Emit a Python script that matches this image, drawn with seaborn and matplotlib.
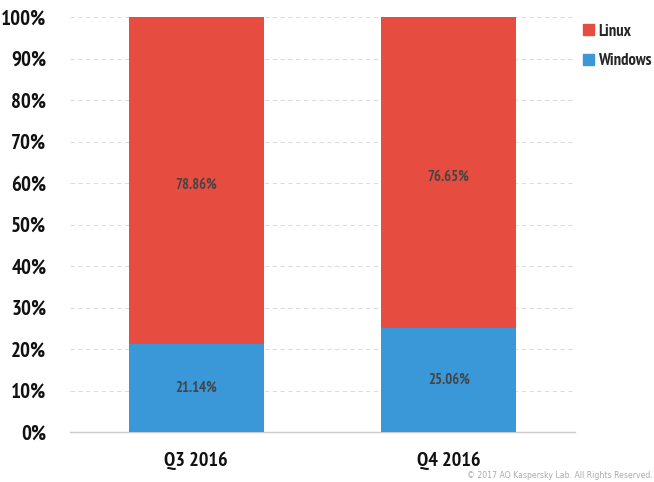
import matplotlib
matplotlib.use("Agg")
import matplotlib.pyplot as plt
import seaborn as sns
import pandas as pd
from matplotlib.patches import Patch

categories = ["Q3 2016", "Q4 2016"]
windows = [21.14, 25.06]
linux = [78.86, 76.65]
yticks = [0, 10, 20, 30, 40, 50, 60, 70, 80, 90, 100]

RED = "#E64C3F"
BLUE = "#3A98D8"
FAM = ["PT Sans Narrow", "Cabin Condensed", "DejaVu Sans"]

sns.set_style("white")
plt.rcParams['font.family'] = FAM

fig = plt.figure(figsize=(6.54, 4.82), dpi=100)
ax = fig.add_axes([0.107, 0.1037, 0.772, 0.861])

df = pd.DataFrame({"cat": categories, "win": windows, "lin": linux})
df["total"] = (df["win"] + df["lin"]).clip(upper=100)

sns.barplot(data=df, x="cat", y="total", color=RED, width=0.536, ax=ax,
            saturation=1, zorder=2, linewidth=0)
sns.barplot(data=df, x="cat", y="win", color=BLUE, width=0.536, ax=ax,
            saturation=1, zorder=3, linewidth=0)

ax.set_ylim(0, 100)
ax.set_xlim(-0.5, 1.5)
ax.set_yticks(yticks)
ax.set_yticklabels([f"{t}%" for t in yticks], fontsize=15, fontweight="bold",
                   color="#111111")
ax.set_xticks(range(len(categories)))
ax.set_xticklabels(categories, fontsize=14.5, fontweight="bold", color="#111111")
ax.tick_params(axis="y", length=0, pad=17)
ax.tick_params(axis="x", length=0, pad=14)
ax.set_xlabel("")
ax.set_ylabel("")
ax.yaxis.grid(True, color="#dddddd", linestyle=(0, (4, 3)), linewidth=0.8, zorder=0)
ax.set_axisbelow(True)
for s in ["top", "right", "left"]:
    ax.spines[s].set_visible(False)
ax.spines["bottom"].set_color("#cccccc")
ax.spines["bottom"].set_linewidth(1)

for i in range(len(categories)):
    w = windows[i]
    ax.text(i, w / 2, f"{w:.2f}%", ha="center", va="center", fontsize=10.5,
            fontweight="bold", color="#444444", zorder=5)
    ax.text(i, (w + 100) / 2 - 1, f"{linux[i]:.2f}%", ha="center", va="center",
            fontsize=10.5, fontweight="bold", color="#444444", zorder=5)

handles = [Patch(color=RED, label="Linux"), Patch(color=BLUE, label="Windows")]
fig.legend(handles=handles, loc="upper left", bbox_to_anchor=(0.868, 0.982),
           frameon=False, handlelength=0.65, handleheight=0.65,
           handletextpad=0.3, labelspacing=0.8,
           prop={"weight": "bold", "size": 12, "family": FAM})

fig.text(0.999, 0.005, "© 2017 AO Kaspersky Lab. All Rights Reserved.", ha="right",
         va="bottom", fontsize=5.6, color="#aaaaaa", family="DejaVu Sans")

fig.savefig("out.png", dpi=100)
